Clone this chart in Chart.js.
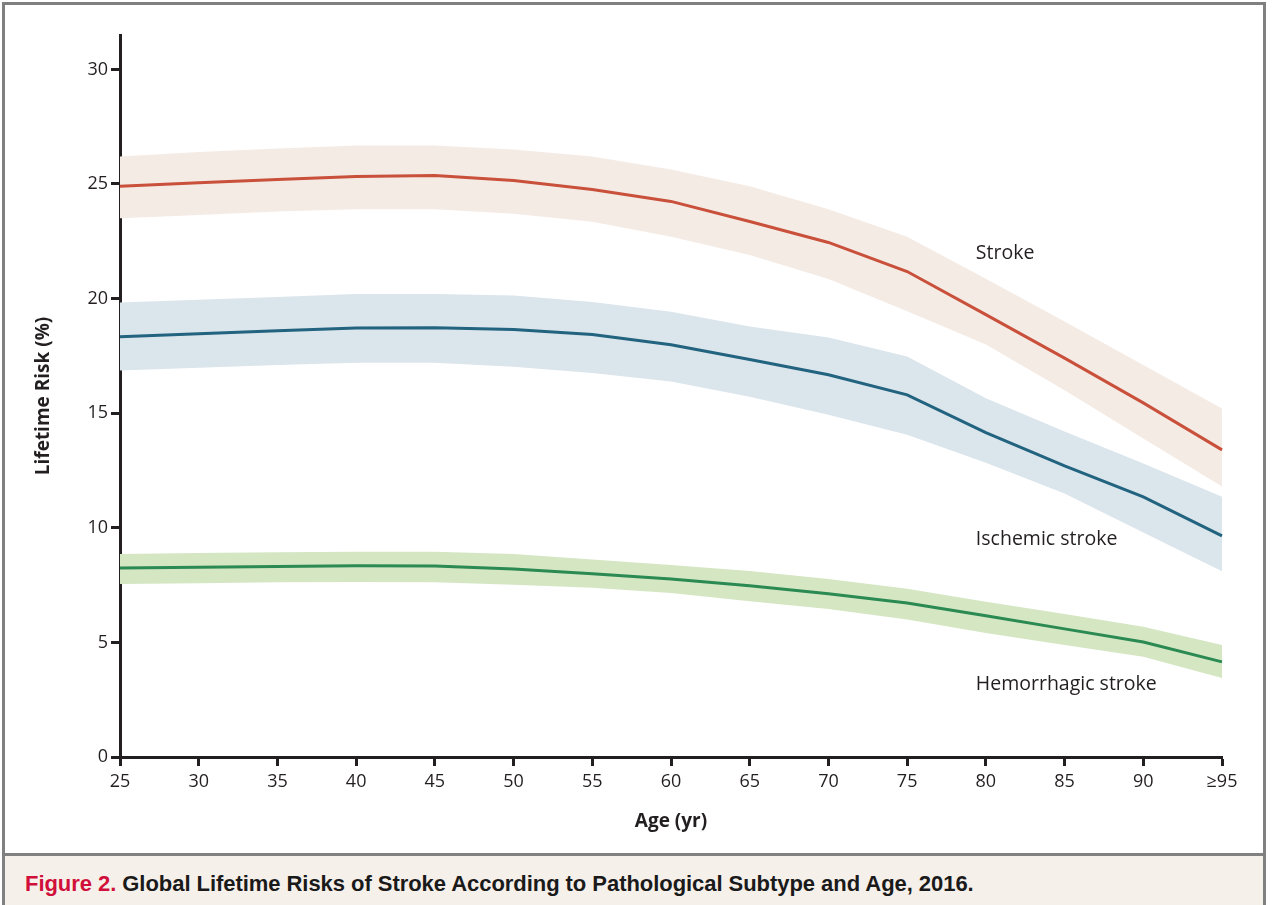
<!DOCTYPE html>
<html>
<head>
<meta charset="utf-8">
<script src="https://cdn.jsdelivr.net/npm/chart.js@4/dist/chart.umd.min.js"></script>
<style>
  body { margin: 0; background: #fff; }
  #wrap { position: relative; width: 1272px; height: 905px; overflow: hidden; }
  #canvas { position: absolute; left: 0; top: 0; }
  #frame { position: absolute; left: 2px; top: 2px; width: 1264px; height: 854px;
           border: 3px solid #808080; box-sizing: border-box; pointer-events: none; }
  #caption { position: absolute; left: 2px; top: 856px; width: 1264px; height: 49px;
             box-sizing: border-box; border-left: 3px solid #808080; border-right: 3px solid #808080;
             background: #f6f0ea; font-family: "Liberation Sans Narrow", "Liberation Sans", sans-serif;
             font-weight: bold; font-size: 22px; color: #1a1a1a; padding: 15px 0 0 20px; letter-spacing: -0.05px; }
  #caption span { color: #d0103a; }
</style>
</head>
<body>
<div id="wrap">
  <canvas id="canvas" width="1272" height="856"></canvas>
  <div id="frame"></div>
  <div id="caption"><span>Figure 2.</span> Global Lifetime Risks of Stroke According to Pathological Subtype and Age, 2016.</div>
</div>
<script>
// données ------------------------------------------------------
var ages = ['25','30','35','40','45','50','55','60','65','70','75','80','85','90','\u226595'];

var stroke   = [24.9, 25.05, 25.2, 25.33, 25.37, 25.15, 24.76, 24.24, 23.36, 22.45, 21.18, 19.3, 17.4, 15.45, 13.4];
var strokeHi = [26.2, 26.4, 26.55, 26.68, 26.68, 26.5, 26.2, 25.63, 24.9, 23.9, 22.7, 20.87, 19.0, 17.1, 15.2];
var strokeLo = [23.5, 23.65, 23.8, 23.9, 23.9, 23.7, 23.35, 22.7, 21.9, 20.85, 19.45, 18.0, 16.0, 13.9, 11.8];

var isch   = [18.34, 18.47, 18.6, 18.72, 18.73, 18.65, 18.43, 17.99, 17.34, 16.68, 15.8, 14.15, 12.7, 11.35, 9.65];
var ischHi = [19.83, 19.95, 20.07, 20.2, 20.2, 20.13, 19.85, 19.43, 18.78, 18.3, 17.47, 15.65, 14.2, 12.8, 11.35];
var ischLo = [16.86, 16.98, 17.1, 17.2, 17.2, 17.03, 16.75, 16.38, 15.72, 14.93, 14.06, 12.84, 11.5, 9.8, 8.1];

var hem   = [8.25, 8.28, 8.31, 8.34, 8.33, 8.2, 8.0, 7.77, 7.47, 7.12, 6.72, 6.16, 5.59, 5.02, 4.15];
var hemHi = [8.86, 8.9, 8.93, 8.95, 8.95, 8.86, 8.62, 8.38, 8.12, 7.77, 7.34, 6.77, 6.24, 5.68, 4.89];
var hemLo = [7.55, 7.58, 7.62, 7.64, 7.62, 7.51, 7.38, 7.16, 6.8, 6.46, 6.0, 5.41, 4.89, 4.37, 3.45];

var yTicks = [0, 5, 10, 15, 20, 25, 30];

// étiquettes des courbes (texte, valeur y)
var seriesLabels = [['Stroke', 21.95], ['Ischemic stroke', 9.5], ['Hemorrhagic stroke', 3.15]];

var axisColor = '#231f20';
var font = 'Open Sans';

function band(hi, lo, color) {
  return [
    { data: hi, borderWidth: 0, pointRadius: 0, fill: false, order: 2 },
    { data: lo, borderWidth: 0, pointRadius: 0, fill: '-1', backgroundColor: color, order: 2 }
  ];
}
function line(d, color) {
  return { data: d, borderColor: color, borderWidth: 3, pointRadius: 0, fill: false, tension: 0, order: 0 };
}

var labelPlugin = {
  id: 'seriesLabels',
  afterDraw: function(chart) {
    var c = chart.ctx, xs = chart.scales.x, ys = chart.scales.y;
    c.save();
    c.font = '19.5px "' + font + '"';
    c.fillStyle = '#231f20';
    c.textAlign = 'left';
    c.textBaseline = 'middle';
    seriesLabels.forEach(function(l) {
      c.fillText(l[0], xs.getPixelForValue(11) - 10, ys.getPixelForValue(l[1]));
    });
    c.restore();
  }
};

var ctx = document.getElementById('canvas').getContext('2d');
var myChart = new Chart(ctx, {
  type: 'line',
  data: {
    labels: ages,
    datasets: [].concat(
      band(strokeHi, strokeLo, '#f5ebe5'),
      band(ischHi, ischLo, '#dbe5ec'),
      band(hemHi, hemLo, '#d5e6c3'),
      [line(stroke, '#c9503a'), line(isch, '#22637f'), line(hem, '#2a8a52')]
    )
  },
  options: {
    responsive: false,
    animation: false,
    events: [],
    layout: { padding: { top: 35, right: 50, bottom: 6, left: 0 } },
    plugins: {
      legend: { display: false },
      tooltip: { enabled: false },
      filler: { drawTime: 'beforeDatasetsDraw' }
    },
    scales: {
      x: {
        offset: false,
        grid: { drawOnChartArea: false, offset: false, tickLength: 9, tickWidth: 3, tickColor: axisColor },
        border: { display: true, width: 3, color: axisColor },
        ticks: { color: axisColor, font: { family: font, size: 18 }, padding: 5, maxRotation: 0, autoSkip: false },
        title: { display: true, text: 'Age (yr)', color: axisColor, font: { family: font, size: 19, weight: 'bold' }, padding: { top: 4, bottom: 17 } },
        afterFit: function(s) { s.height = 93; }
      },
      y: {
        min: 0,
        max: 31.5,
        grid: { drawOnChartArea: false, tickLength: 9, tickWidth: 3, tickColor: axisColor },
        border: { display: true, width: 3, color: axisColor },
        ticks: { stepSize: 5, color: axisColor, font: { family: font, size: 18 }, padding: 3 },
        afterBuildTicks: function(s) { s.ticks = yTicks.map(function(v) { return { value: v }; }); },
        title: { display: true, text: 'Lifetime Risk (%)', color: axisColor, font: { family: font, size: 19, weight: 'bold' }, padding: { top: 32 } },
        afterFit: function(s) { s.width = 120; }
      }
    }
  },
  plugins: [labelPlugin]
});
</script>
</body>
</html>
